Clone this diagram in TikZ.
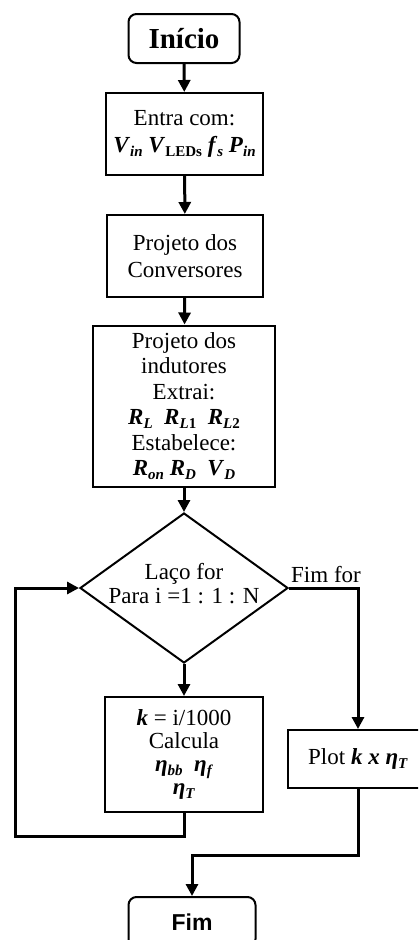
\documentclass[tikz,border=0pt]{standalone}
\usepackage{fontspec}
\setmainfont{Liberation Serif}
\setsansfont{Liberation Sans}
\usetikzlibrary{arrows.meta,shapes.geometric,calc}
\newcommand\bi[1]{\textbf{\textit{#1}}}
\newcommand\lsub[1]{\raisebox{-0.35ex}{\fontsize{15}{15}\selectfont\bfseries #1}}
\begin{document}
\begin{tikzpicture}[x=1pt,y=-1pt,
  txt/.style={font=\fontsize{23}{27}\selectfont, align=center},
  box/.style={txt, draw, line width=2pt, inner sep=2pt},
  rbox/.style={box, rounded corners=8pt},
  dia/.style={draw, diamond, line width=2pt, inner sep=0pt},
  arr/.style={line width=3pt, -{Triangle[length=12pt,width=12pt]}},
  con/.style={line width=3pt}]
\useasboundingbox (0,0) rectangle (418,940);
\clip (0,0) rectangle (418,940);
\node[rbox, font=\fontsize{29}{30}\selectfont\bfseries, minimum width=111, minimum height=49] (start) at (184,38.5) {Início};
\node[box, minimum width=157, minimum height=82] (entra) at (184.5,134) {Entra com:\\ \bi{V}\lsub{\bi{in}} \bi{V}\lsub{LEDs} \bi{f}\lsub{\bi{s}} \bi{P}\lsub{\bi{in}}};
\node[box, minimum width=156, minimum height=82] (conv) at (185,256) {Projeto dos\\Conversores};
\node[box, minimum width=182, minimum height=161, font=\fontsize{23}{25.5}\selectfont] (ind) at (184,406) {Projeto dos\\indutores\\Extrai:\\ \bi{R}\lsub{\bi{L}}~ \bi{R}\lsub{\bi{L}1}~ \bi{R}\lsub{\bi{L}2}\\Estabelece:\\ \bi{R}\lsub{\bi{on}} \bi{R}\lsub{\bi{D}}~ \bi{V}\lsub{\bi{D}}};
\node[dia, minimum width=208, minimum height=150] (loop) at (184,588) {};
\node[txt, inner sep=0pt, font=\fontsize{23}{24}\selectfont] (looptxt) at (184,584) {Laço for\\Para i =1 : 1 : N};
\node[txt, anchor=base west, inner sep=0pt] (fimfor) at (291,582) {Fim for};
\node[box, minimum width=158, minimum height=115, font=\fontsize{23}{23}\selectfont] (calc) at (184,754.5) {\bi{k} = i/1000\\Calcula\\ \bi{η}\lsub{\bi{bb}}~ \bi{η}\lsub{\bi{f}}\\ \bi{η}\lsub{\bi{T}}};
\node[box, minimum width=140, minimum height=58] (plot) at (358,759) {Plot \bi{k x η}\lsub{\bi{T}}};
\node[rbox, minimum width=127, minimum height=50, font=\fontsize{23}{24}\selectfont\sffamily\bfseries] (fim) at (192,922) {Fim};
\coordinate (lb) at (15,836);
\coordinate (j) at (192,855);
\draw[arr] (start) -- (entra);
\draw[arr] (entra) -- (conv);
\draw[arr] (conv) -- (ind);
\draw[arr] (ind) -- (loop);
\draw[arr] (loop) -- (calc);
\draw[arr] (calc.south) |- (lb) |- (loop.west);
\draw[arr] (loop.east) -| (plot.north);
\draw[arr] (plot.south) |- (j) -- (fim.north);
\end{tikzpicture}
\end{document}
